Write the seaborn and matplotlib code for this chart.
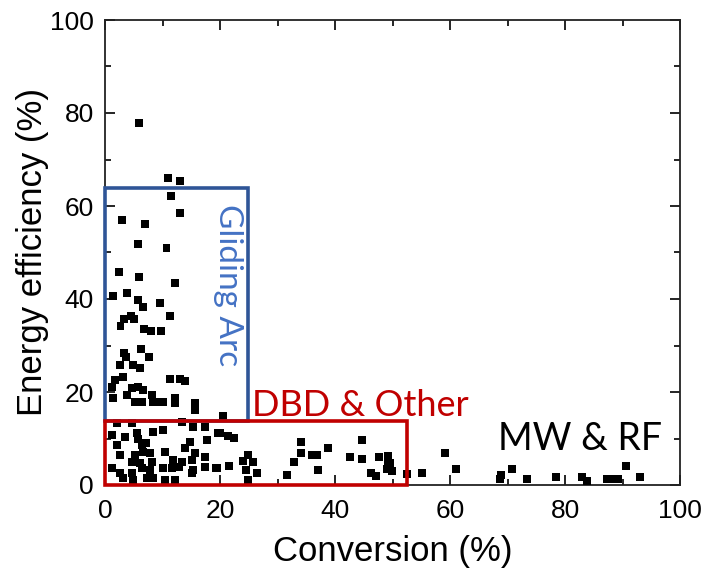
import matplotlib
matplotlib.use("Agg")
import matplotlib.pyplot as plt
from matplotlib.patches import Rectangle
from matplotlib.ticker import MultipleLocator
import seaborn as sns
import pandas as pd

conversion = [
    5.9, 11.0, 13.0, 11.5, 13.0, 3.0, 7.0,
    5.7, 10.7, 2.4, 5.9, 12.2, 1.4, 3.8, 5.7, 6.6, 9.5, 3.3, 2.7, 4.5, 5.1, 11.3, 6.8, 8.0, 9.7,
    3.3, 3.7, 6.3, 7.7,
    2.6, 4.9, 6.1, 3.2, 1.7, 1.2, 4.7, 5.7, 6.6, 1.4, 3.8, 5.2, 6.4, 8.1, 8.4, 9.2,
    11.3, 13.0, 13.9, 10.1, 12.2, 12.2, 15.7, 15.7, 13.4, 20.5, 2.1, 4.7,
    1.2, 3.5, 5.5, 5.8, 2.1, 6.4, 7.2, 8.4, 6.6, 2.6, 5.2, 7.8, 4.7, 6.1, 8.1, 1.2, 6.4, 7.8,
    2.6, 4.7, 3.2, 4.9, 7.3, 8.4,
    10.1, 15.3, 17.4, 19.7, 17.7, 14.8, 10.4, 13.9, 15.7, 17.4, 11.8, 13.4, 15.1, 10.1, 11.6,
    12.9, 15.3, 17.4, 19.5, 10.4, 12.2, 15.1,
    20.0, 21.4, 22.4, 19.3, 21.6, 24.0, 24.9, 25.7, 24.5, 26.4, 24.9, 31.7, 32.9, 34.1, 34.1,
    36.0, 36.8, 37.0, 38.8,
    44.7, 42.6, 44.7, 47.7, 49.2, 49.2, 49.6, 49.0, 49.9, 46.3, 47.1, 52.5, 55.1,
    59.1, 61.0, 68.9, 68.7, 70.8, 73.4, 78.4, 83.0, 83.8, 87.3, 88.2, 89.2, 90.6, 93.0,
]
efficiency = [
    77.9, 66.0, 65.4, 62.2, 58.5, 57.0, 56.2,
    51.8, 51.0, 45.8, 44.7, 43.4, 40.6, 41.3, 39.8, 38.3, 39.1, 35.7, 34.2, 36.3, 35.7, 36.3, 33.5, 33.1, 33.1,
    28.4, 27.5, 29.2, 27.5,
    25.8, 25.8, 25.2, 23.2, 22.6, 21.1, 20.9, 21.1, 20.4, 18.7, 19.4, 17.8, 17.8, 19.4, 17.8, 17.8,
    22.8, 22.8, 22.4, 17.8, 18.7, 17.6, 17.6, 16.1, 13.6, 14.8, 13.3, 13.3,
    10.8, 10.3, 11.2, 9.9, 8.6, 8.6, 9.0, 11.4, 7.1, 6.5, 6.5, 6.9, 4.9, 4.7, 4.9, 3.7, 3.7, 3.2,
    2.6, 2.6, 1.5, 1.1, 1.5, 1.5,
    11.8, 12.5, 12.5, 11.2, 9.7, 9.2, 7.1, 8.0, 6.9, 6.0, 5.4, 4.9, 5.4, 3.7, 3.7,
    3.9, 3.2, 3.9, 3.7, 1.1, 1.1, 2.6,
    11.2, 10.5, 10.1, 3.7, 4.1, 5.2, 6.5, 4.9, 3.2, 2.6, 1.1, 2.2, 4.9, 6.9, 9.2,
    6.5, 6.5, 3.2, 8.0,
    9.7, 6.0, 5.6, 6.0, 6.2, 5.2, 4.8, 3.4, 3.0, 2.6, 1.9, 2.4, 2.6,
    6.9, 3.4, 2.2, 1.3, 3.4, 1.3, 1.7, 1.7, 0.9, 1.3, 1.3, 1.3, 4.1, 1.7,
]

x_ticks = [0, 20, 40, 60, 80, 100]
y_ticks = [0, 20, 40, 60, 80, 100]

df = pd.DataFrame({"Conversion": conversion, "Efficiency": efficiency})

sns.set_style("ticks")
plt.rcParams["font.family"] = ["Liberation Sans", "DejaVu Sans"]
plt.rcParams["text.color"] = "black"
plt.rcParams["axes.labelcolor"] = "black"
plt.rcParams["xtick.color"] = "black"
plt.rcParams["ytick.color"] = "black"

fig = plt.figure(figsize=(7.01, 5.71), dpi=100)
ax = fig.add_axes([105 / 701, 1 - 485 / 571, 575 / 701, 465 / 571])

sns.scatterplot(data=df, x="Conversion", y="Efficiency", marker="s", s=32,
                color="black", edgecolor="none", linewidth=0, ax=ax, zorder=3, clip_on=False)

ax.set_xlim(0, 100)
ax.set_ylim(0, 100)
ax.set_xticks(x_ticks)
ax.set_yticks(y_ticks)
ax.xaxis.set_minor_locator(MultipleLocator(10))
ax.yaxis.set_minor_locator(MultipleLocator(10))
ax.tick_params(which="both", direction="in", top=True, right=True, color="black", width=1.2)
ax.tick_params(which="major", length=7, labelsize=19, pad=8, labelcolor="black")
ax.tick_params(axis="x", which="major", pad=10)
ax.tick_params(which="minor", length=4)
for s in ax.spines.values():
    s.set_color("#222222")
    s.set_linewidth(1.3)

ax.set_xlabel("Conversion (%)", fontsize=25, labelpad=9, color="black")
ax.set_ylabel("Energy efficiency (%)", fontsize=25, labelpad=1, color="black")

ax.add_patch(Rectangle((0, 13.8), 24.9, 63.8 - 13.8, fill=False, edgecolor="#2F5597",
                       linewidth=2.6, zorder=4, clip_on=False))
ax.add_patch(Rectangle((0, 0), 52.6, 13.8, fill=False, edgecolor="#C00000",
                       linewidth=2.6, zorder=5, clip_on=False))

ax.text(21.4, 43.0, "Gliding Arc", rotation=-90, ha="center", va="center",
        fontsize=24, color="#4472C4", family=["Lato", "DejaVu Sans"])
ax.text(25.6, 14.9, "DBD & Other", ha="left", va="baseline",
        fontsize=26, color="#C00000", family=["Lato", "DejaVu Sans"])
ax.text(82.6, 10.0, "MW & RF", ha="center", va="center",
        fontsize=27, color="black", family=["Lato", "DejaVu Sans"])

fig.savefig("out.png", dpi=100)
